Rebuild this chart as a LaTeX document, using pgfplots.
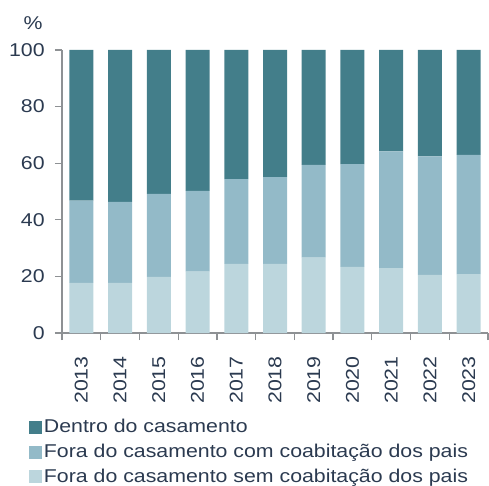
\documentclass[border=0pt]{standalone}
\usepackage{fontspec}
\setmainfont{Liberation Sans}[FakeStretch=1.15]
\usepackage{pgfplots}
\pgfplotsset{compat=1.18}
\definecolor{dentro}{HTML}{437E8A}
\definecolor{fcom}{HTML}{93BAC8}
\definecolor{fsem}{HTML}{BCD6DD}
\definecolor{txt}{HTML}{2B3A50}
\definecolor{axc}{HTML}{8E9194}

\begin{document}
\fontsize{18.6}{25}\selectfont
\begin{tikzpicture}
\begin{axis}[
    name=ax,
    scale only axis,
    width=426bp, height=283bp,
    ybar stacked,
    bar width=24bp,
    xmin=-0.5, xmax=10.5,
    ymin=0, ymax=100,
    axis x line*=bottom, axis y line*=left,
    axis line style={axc, line width=1.3pt},
    every tick/.style={axc, line width=1.3pt},
    xtick={0,...,10},
    xticklabels={2013,2014,2015,2016,2017,2018,2019,2020,2021,2022,2023},
    major x tick style={draw=none},
    minor xtick={-0.5,0.5,...,10.5},
    minor tick length=7bp,
    ytick={0,20,...,100},
    major tick length=7bp,
    tick align=outside,
    xticklabel style={rotate=90, anchor=east, text=txt, font=\fontsize{18.6}{20}\selectfont},
    xticklabel shift=10bp,
    yticklabel style={text=txt, font=\fontsize{18.6}{20}\selectfont},
    yticklabel shift=4bp,
    /pgf/number format/assume math mode=true,
    legend cell align=left,
    reverse legend,
    legend style={at={(axis description cs:-0.078,-0.297)}, anchor=north west,
        draw=none, fill=none, text=txt, inner sep=0pt, row sep=4.5bp,
        font=\fontsize{18.6}{20}\selectfont},
    legend image code/.code={\fill[#1] (0bp,-6.5bp) rectangle (13bp,6.5bp);},
]
\addplot[fill=fsem, draw=none] coordinates {(0,17.7) (1,17.7) (2,19.8) (3,21.7) (4,24.4) (5,24.4) (6,26.6) (7,23.4) (8,22.9) (9,20.5) (10,20.8)};
\addplot[fill=fcom, draw=none] coordinates {(0,29.1) (1,28.6) (2,29.4) (3,28.5) (4,30.0) (5,30.7) (6,32.8) (7,36.3) (8,41.3) (9,41.9) (10,42.1)};
\addplot[fill=dentro, draw=none] coordinates {(0,53.2) (1,53.7) (2,50.8) (3,49.8) (4,45.6) (5,44.9) (6,40.6) (7,40.3) (8,35.8) (9,37.6) (10,37.1)};
\legend{Fora do casamento sem coabitação dos pais, Fora do casamento com coabitação dos pais, Dentro do casamento}
\end{axis}
\node[text=txt, font=\fontsize{18.6}{20}\selectfont] at (-29bp,310bp) {\%};
\pgfresetboundingbox
\path[use as bounding box] (-62bp,-153bp) rectangle (427bp,333bp);
\end{tikzpicture}
\end{document}
